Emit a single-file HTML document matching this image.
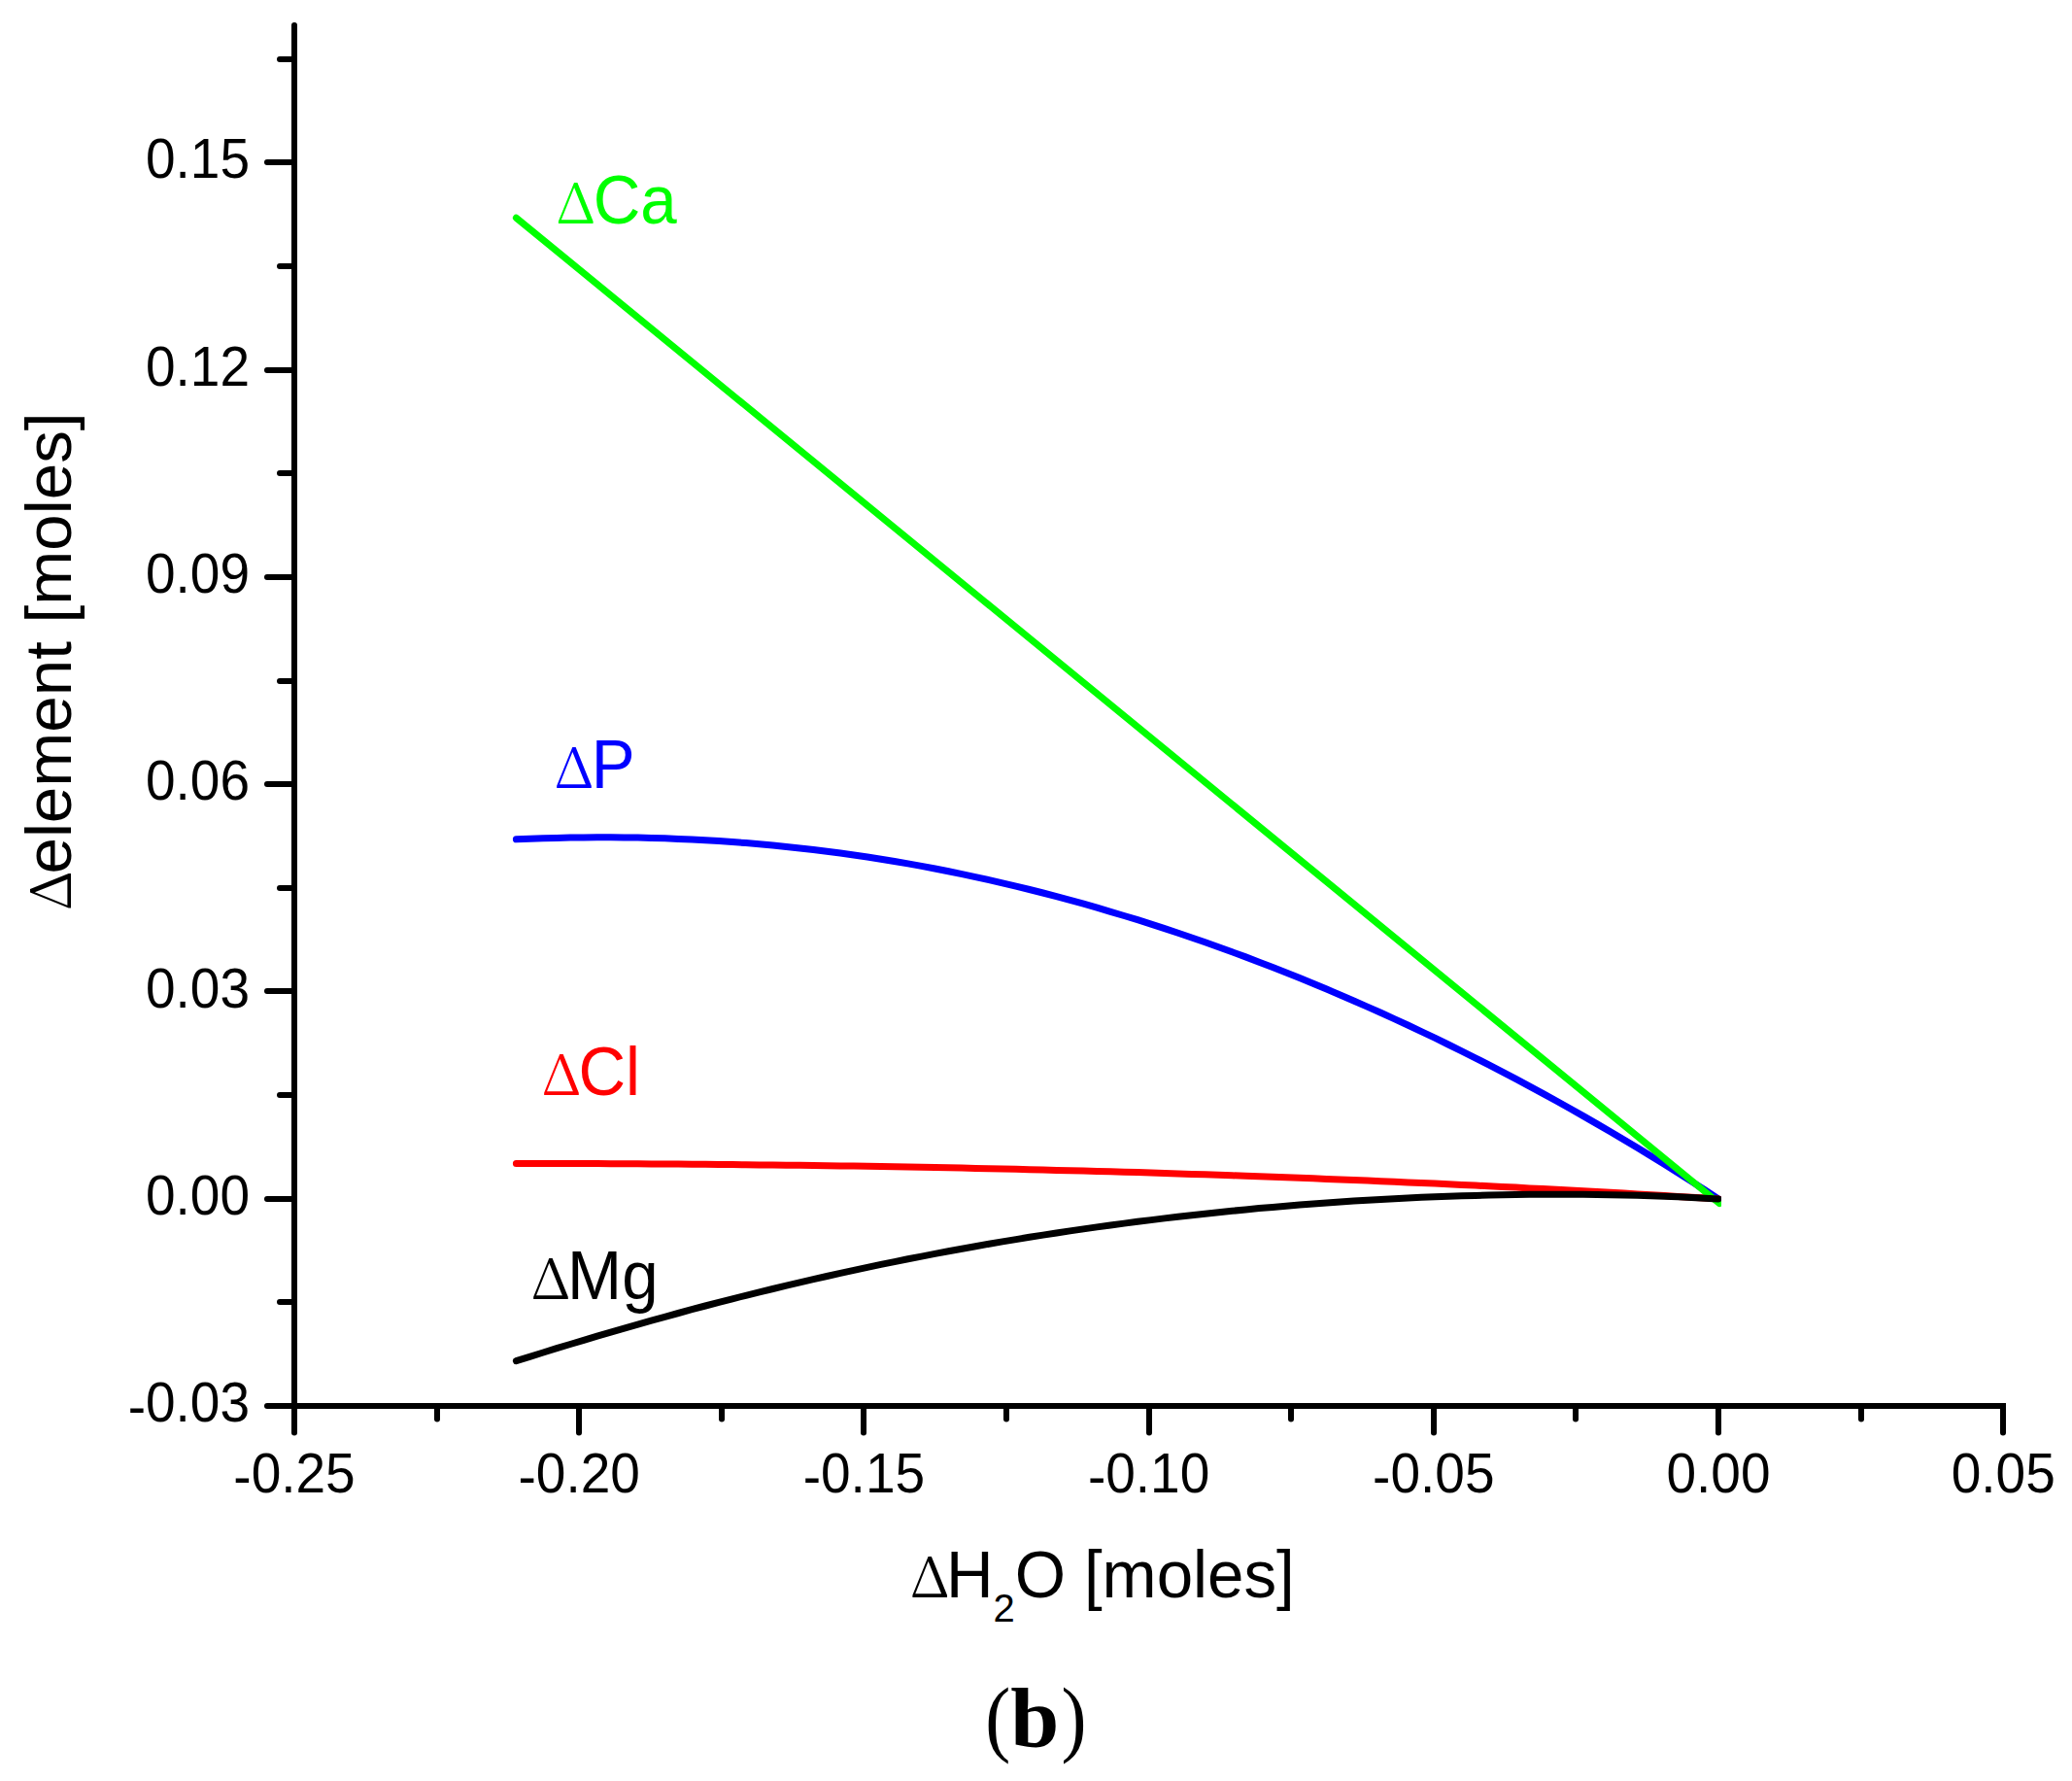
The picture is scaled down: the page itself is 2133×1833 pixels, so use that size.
<!DOCTYPE html>
<html><head><meta charset="utf-8"><title>Figure (b)</title>
<style>
html,body{margin:0;padding:0;background:#fff;}
svg{display:block;}
text{font-family:"Liberation Sans",sans-serif;}
.tk{font-size:55px;fill:#000;}
.lb{font-size:67.3px;}
.sy{font-family:"Noto Serif CJK SC","Liberation Serif",serif;}
</style></head><body>
<svg width="2133" height="1833" viewBox="0 0 2133 1833">
<rect width="2133" height="1833" fill="#fff"/>

<defs><clipPath id="cp"><rect x="0" y="0" width="1772" height="1833"/></clipPath></defs>
<g fill="none" stroke-width="7" stroke-linecap="round" stroke-linejoin="round" clip-path="url(#cp)">
<path d="M531.4,863.8 L545.3,863.2 L559.2,862.7 L573.1,862.4 L587.0,862.1 L600.9,861.9 L614.8,861.8 L628.7,861.8 L642.6,861.9 L656.6,862.1 L670.5,862.4 L684.4,862.8 L698.3,863.4 L712.2,864.0 L726.1,864.7 L740.0,865.6 L753.9,866.5 L767.8,867.6 L781.7,868.7 L795.6,870.0 L809.5,871.4 L823.4,872.9 L837.3,874.5 L851.2,876.2 L865.1,878.0 L879.0,880.0 L892.9,882.0 L906.9,884.2 L920.8,886.5 L934.7,888.9 L948.6,891.4 L962.5,894.0 L976.4,896.8 L990.3,899.6 L1004.2,902.6 L1018.1,905.6 L1032.0,908.8 L1045.9,912.1 L1059.8,915.5 L1073.7,919.0 L1087.6,922.7 L1101.5,926.4 L1115.4,930.2 L1129.3,934.2 L1143.2,938.3 L1157.2,942.5 L1171.1,946.7 L1185.0,951.1 L1198.9,955.6 L1212.8,960.3 L1226.7,965.0 L1240.6,969.8 L1254.5,974.7 L1268.4,979.8 L1282.3,984.9 L1296.2,990.2 L1310.1,995.6 L1324.0,1001.0 L1337.9,1006.6 L1351.8,1012.3 L1365.7,1018.1 L1379.6,1024.0 L1393.5,1030.0 L1407.5,1036.1 L1421.4,1042.3 L1435.3,1048.6 L1449.2,1055.0 L1463.1,1061.6 L1477.0,1068.2 L1490.9,1075.0 L1504.8,1081.8 L1518.7,1088.8 L1532.6,1095.9 L1546.5,1103.1 L1560.4,1110.4 L1574.3,1117.8 L1588.2,1125.3 L1602.1,1133.0 L1616.0,1140.7 L1629.9,1148.6 L1643.8,1156.6 L1657.8,1164.7 L1671.7,1172.9 L1685.6,1181.2 L1699.5,1189.7 L1713.4,1198.3 L1727.3,1207.0 L1741.2,1215.9 L1755.1,1224.8 L1769.0,1234.0" stroke="#0000ff"/>
<path d="M531.4,1197.5 L545.3,1197.5 L559.2,1197.5 L573.1,1197.5 L587.0,1197.6 L600.9,1197.6 L614.8,1197.6 L628.7,1197.7 L642.6,1197.8 L656.6,1197.8 L670.5,1197.9 L684.4,1198.0 L698.3,1198.1 L712.2,1198.2 L726.1,1198.3 L740.0,1198.4 L753.9,1198.6 L767.8,1198.7 L781.7,1198.9 L795.6,1199.0 L809.5,1199.2 L823.4,1199.3 L837.3,1199.5 L851.2,1199.7 L865.1,1199.9 L879.0,1200.1 L892.9,1200.3 L906.9,1200.6 L920.8,1200.8 L934.7,1201.1 L948.6,1201.3 L962.5,1201.6 L976.4,1201.8 L990.3,1202.1 L1004.2,1202.4 L1018.1,1202.7 L1032.0,1203.0 L1045.9,1203.3 L1059.8,1203.7 L1073.7,1204.0 L1087.6,1204.4 L1101.5,1204.7 L1115.4,1205.1 L1129.3,1205.5 L1143.2,1205.8 L1157.2,1206.2 L1171.1,1206.6 L1185.0,1207.1 L1198.9,1207.5 L1212.8,1207.9 L1226.7,1208.4 L1240.6,1208.8 L1254.5,1209.3 L1268.4,1209.8 L1282.3,1210.2 L1296.2,1210.7 L1310.1,1211.2 L1324.0,1211.8 L1337.9,1212.3 L1351.8,1212.8 L1365.7,1213.4 L1379.6,1213.9 L1393.5,1214.5 L1407.5,1215.1 L1421.4,1215.7 L1435.3,1216.3 L1449.2,1216.9 L1463.1,1217.5 L1477.0,1218.1 L1490.9,1218.8 L1504.8,1219.4 L1518.7,1220.1 L1532.6,1220.8 L1546.5,1221.4 L1560.4,1222.1 L1574.3,1222.9 L1588.2,1223.6 L1602.1,1224.3 L1616.0,1225.0 L1629.9,1225.8 L1643.8,1226.6 L1657.8,1227.3 L1671.7,1228.1 L1685.6,1228.9 L1699.5,1229.7 L1713.4,1230.5 L1727.3,1231.4 L1741.2,1232.2 L1755.1,1233.1 L1769.0,1233.9" stroke="#ff0000"/>
<path d="M531.4,224.2 L1770,1238.6" stroke="#00ff00"/>
<path d="M531.4,1400.7 L545.3,1396.3 L559.2,1392.0 L573.1,1387.7 L587.0,1383.5 L600.9,1379.3 L614.8,1375.2 L628.7,1371.1 L642.6,1367.1 L656.6,1363.1 L670.5,1359.2 L684.4,1355.3 L698.3,1351.5 L712.2,1347.7 L726.1,1344.0 L740.0,1340.4 L753.9,1336.8 L767.8,1333.3 L781.7,1329.9 L795.6,1326.5 L809.5,1323.1 L823.4,1319.8 L837.3,1316.6 L851.2,1313.5 L865.1,1310.4 L879.0,1307.3 L892.9,1304.4 L906.9,1301.4 L920.8,1298.6 L934.7,1295.8 L948.6,1293.1 L962.5,1290.4 L976.4,1287.8 L990.3,1285.2 L1004.2,1282.7 L1018.1,1280.3 L1032.0,1277.9 L1045.9,1275.6 L1059.8,1273.3 L1073.7,1271.1 L1087.6,1269.0 L1101.5,1266.9 L1115.4,1264.9 L1129.3,1262.9 L1143.2,1261.0 L1157.2,1259.1 L1171.1,1257.3 L1185.0,1255.6 L1198.9,1253.9 L1212.8,1252.3 L1226.7,1250.7 L1240.6,1249.2 L1254.5,1247.7 L1268.4,1246.3 L1282.3,1244.9 L1296.2,1243.6 L1310.1,1242.4 L1324.0,1241.2 L1337.9,1240.1 L1351.8,1239.0 L1365.7,1238.0 L1379.6,1237.0 L1393.5,1236.1 L1407.5,1235.2 L1421.4,1234.4 L1435.3,1233.7 L1449.2,1233.0 L1463.1,1232.3 L1477.0,1231.7 L1490.9,1231.2 L1504.8,1230.8 L1518.7,1230.4 L1532.6,1230.0 L1546.5,1229.7 L1560.4,1229.5 L1574.3,1229.3 L1588.2,1229.2 L1602.1,1229.2 L1616.0,1229.2 L1629.9,1229.3 L1643.8,1229.4 L1657.8,1229.7 L1671.7,1229.9 L1685.6,1230.3 L1699.5,1230.7 L1713.4,1231.2 L1727.3,1231.8 L1741.2,1232.5 L1755.1,1233.2 L1769.0,1234.0" stroke="#000"/>
</g>
<g stroke="#000" stroke-width="6" stroke-linecap="round" fill="none">
<line x1="303" y1="26" x2="303" y2="1447"/>
<line x1="303" y1="1447" x2="2062" y2="1447" stroke-linecap="square"/>
<line x1="275" y1="167" x2="303" y2="167"/>
<line x1="275" y1="381" x2="303" y2="381"/>
<line x1="275" y1="594" x2="303" y2="594"/>
<line x1="275" y1="807" x2="303" y2="807"/>
<line x1="275" y1="1020" x2="303" y2="1020"/>
<line x1="275" y1="1234" x2="303" y2="1234"/>
<line x1="275" y1="1447" x2="303" y2="1447"/>
<line x1="288" y1="61" x2="303" y2="61"/>
<line x1="288" y1="274" x2="303" y2="274"/>
<line x1="288" y1="487" x2="303" y2="487"/>
<line x1="288" y1="701" x2="303" y2="701"/>
<line x1="288" y1="914" x2="303" y2="914"/>
<line x1="288" y1="1127" x2="303" y2="1127"/>
<line x1="288" y1="1340" x2="303" y2="1340"/>
<line x1="303" y1="1447" x2="303" y2="1474.5"/>
<line x1="596" y1="1447" x2="596" y2="1474.5"/>
<line x1="889" y1="1447" x2="889" y2="1474.5"/>
<line x1="1183" y1="1447" x2="1183" y2="1474.5"/>
<line x1="1476" y1="1447" x2="1476" y2="1474.5"/>
<line x1="1769" y1="1447" x2="1769" y2="1474.5"/>
<line x1="2062" y1="1447" x2="2062" y2="1474.5"/>
<line x1="450" y1="1447" x2="450" y2="1460.5"/>
<line x1="743" y1="1447" x2="743" y2="1460.5"/>
<line x1="1036" y1="1447" x2="1036" y2="1460.5"/>
<line x1="1329" y1="1447" x2="1329" y2="1460.5"/>
<line x1="1622" y1="1447" x2="1622" y2="1460.5"/>
<line x1="1916" y1="1447" x2="1916" y2="1460.5"/>
</g>
<text class="tk" transform="translate(257.0,183.3) scale(1,1.04)" text-anchor="end" fill="#000">0.15</text>
<text class="tk" transform="translate(257.0,396.6) scale(1,1.04)" text-anchor="end" fill="#000">0.12</text>
<text class="tk" transform="translate(257.0,609.9) scale(1,1.04)" text-anchor="end" fill="#000">0.09</text>
<text class="tk" transform="translate(257.0,823.2) scale(1,1.04)" text-anchor="end" fill="#000">0.06</text>
<text class="tk" transform="translate(257.0,1036.5) scale(1,1.04)" text-anchor="end" fill="#000">0.03</text>
<text class="tk" transform="translate(257.0,1249.8) scale(1,1.04)" text-anchor="end" fill="#000">0.00</text>
<text class="tk" transform="translate(257.0,1463.1) scale(1,1.04)" text-anchor="end" fill="#000"><tspan dy="3.8">-</tspan><tspan dy="-3.8">0.03</tspan></text>
<text class="tk" transform="translate(303.0,1535.5) scale(1,1.04)" text-anchor="middle" fill="#000"><tspan dy="3.8">-</tspan><tspan dy="-3.8">0.25</tspan></text>
<text class="tk" transform="translate(596.2,1535.5) scale(1,1.04)" text-anchor="middle" fill="#000"><tspan dy="3.8">-</tspan><tspan dy="-3.8">0.20</tspan></text>
<text class="tk" transform="translate(889.4,1535.5) scale(1,1.04)" text-anchor="middle" fill="#000"><tspan dy="3.8">-</tspan><tspan dy="-3.8">0.15</tspan></text>
<text class="tk" transform="translate(1182.6,1535.5) scale(1,1.04)" text-anchor="middle" fill="#000"><tspan dy="3.8">-</tspan><tspan dy="-3.8">0.10</tspan></text>
<text class="tk" transform="translate(1475.8,1535.5) scale(1,1.04)" text-anchor="middle" fill="#000"><tspan dy="3.8">-</tspan><tspan dy="-3.8">0.05</tspan></text>
<text class="tk" transform="translate(1769.0,1535.5) scale(1,1.04)" text-anchor="middle" fill="#000">0.00</text>
<text class="tk" transform="translate(2062.2,1535.5) scale(1,1.04)" text-anchor="middle" fill="#000">0.05</text>
<text class="lb" transform="translate(572.1,229.8) scale(1,1.04)" fill="#00ff00"><tspan class="sy" x="0" font-size="55.0" textLength="41.7" lengthAdjust="spacingAndGlyphs">Δ</tspan><tspan x="38.6">Ca</tspan></text>
<text class="lb" transform="translate(570.2,810.7) scale(1,1.04)" fill="#0000ff"><tspan class="sy" x="0" font-size="55.0" textLength="41.7" lengthAdjust="spacingAndGlyphs">Δ</tspan><tspan x="38.6">P</tspan></text>
<text class="lb" transform="translate(557.3,1127) scale(1,1.04)" fill="#ff0000"><tspan class="sy" x="0" font-size="55.0" textLength="41.7" lengthAdjust="spacingAndGlyphs">Δ</tspan><tspan x="38.1">Cl</tspan></text>
<text class="lb" transform="translate(546.3,1336.5) scale(1,1.04)" fill="#000"><tspan class="sy" x="0" font-size="55.0" textLength="41.7" lengthAdjust="spacingAndGlyphs">Δ</tspan><tspan x="37.8">Mg</tspan></text>
<text class="lb" transform="translate(936.5,1643.7) scale(1,1.02)" fill="#000"><tspan class="sy" x="0" font-size="56.1" textLength="41.7" lengthAdjust="spacingAndGlyphs">Δ</tspan><tspan x="37.5">H<tspan font-size="40" dy="25">2</tspan><tspan dy="-25">O [moles]</tspan></tspan></text>
<text class="lb" transform="translate(73.3,937.4) rotate(-90) scale(1,1.0)" fill="#000"><tspan class="sy" x="0" font-size="57.2" textLength="41.7" lengthAdjust="spacingAndGlyphs">Δ</tspan><tspan x="37.9">element [moles]</tspan></text>
<text y="1797" fill="#000" style="font-family:'Liberation Serif',serif;font-size:86px"><tspan x="1014.2" textLength="26" lengthAdjust="spacingAndGlyphs">(</tspan><tspan x="1040.3" font-weight="bold" textLength="50.1" lengthAdjust="spacingAndGlyphs">b</tspan><tspan x="1092.6" textLength="26" lengthAdjust="spacingAndGlyphs">)</tspan></text>
</svg></body></html>
